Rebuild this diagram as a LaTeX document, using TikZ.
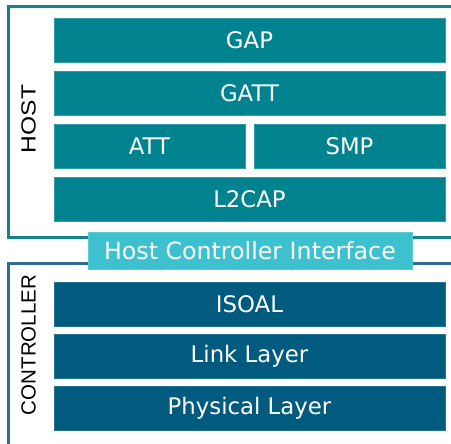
\documentclass[tikz,border=0pt]{standalone}
\usepackage{fontspec}
\setmainfont{DejaVu Sans}
\newfontfamily\labelfont{Liberation Sans}
\definecolor{hostbox}{HTML}{00838F}
\definecolor{hcibox}{HTML}{3EC1CE}
\definecolor{ctrlbox}{HTML}{005B7E}
\definecolor{hostframe}{HTML}{15808E}
\definecolor{ctrlframe}{HTML}{2E6E8C}
\begin{document}
\begin{tikzpicture}[x=1pt,y=-1pt,
  layer/.style={rectangle, inner sep=0pt, minimum height=44pt, text=white,
    font=\fontsize{22.8}{25}\selectfont},
  hostlayer/.style={layer, fill=hostbox, draw=hostbox!80!white, line width=0.6pt},
  ctrllayer/.style={layer, fill=ctrlbox, draw=ctrlbox!85!white, line width=0.6pt},
  frame/.style={line width=3pt},
  sidelabel/.style={rotate=90, inner sep=0pt, text=black,
    font=\labelfont\fontsize{20.5}{22}\selectfont}]
\useasboundingbox (0,0) rectangle (451,444);
\clip (0,0) rectangle (451,444);
\fill[white] (0,0) rectangle (451,444);
% frames
\draw[frame, draw=hostframe] (8,6.5) rectangle (470,238);
\draw[frame, draw=ctrlframe] (8,264) rectangle (470,470);
% host layers
\node[hostlayer, minimum width=391pt] (gap) at (249.5,40) {GAP};
\node[hostlayer, minimum width=391pt] (gatt) at (249.5,93) {GATT};
\node[hostlayer, minimum width=191pt] (att) at (149.5,146) {ATT};
\node[hostlayer, minimum width=191pt] (smp) at (349.5,146) {SMP};
\node[hostlayer, minimum width=391pt] (l2cap) at (249.5,199) {L2CAP};
% HCI
\node[rectangle, inner sep=0pt, fill=hcibox, draw=hcibox!85!white, line width=0.6pt,
  minimum width=324pt, minimum height=37pt, text=white,
  font=\fontsize{23.7}{26}\selectfont] (hci) at (250,250.5) {Host Controller Interface};
% controller layers
\node[ctrllayer, minimum width=391pt] (isoal) at (249.5,304) {ISOAL};
\node[ctrllayer, minimum width=391pt] (link) at (249.5,356) {Link Layer};
\node[ctrllayer, minimum width=391pt] (phy) at (249.5,408) {Physical Layer};
% side labels
\node[sidelabel] (host) at (28.5,119) {\scalebox{1.2}[1]{HOST}};
\node[sidelabel] (ctrl) at (28.5,345) {CONTROLLER};
\end{tikzpicture}
\end{document}
